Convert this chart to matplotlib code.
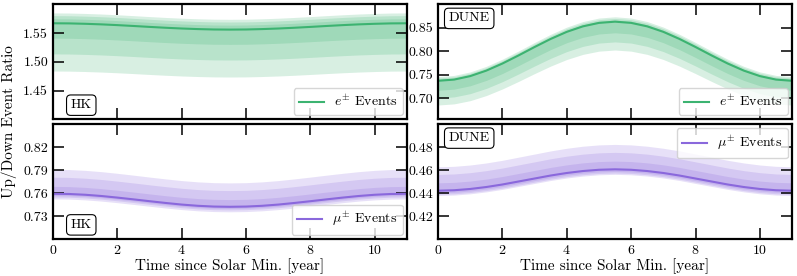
import numpy as np
import matplotlib
matplotlib.use("Agg")
from matplotlib import pyplot as plt

plt.rcParams['font.family'] = 'serif'
plt.rcParams['font.serif'] = ['cmr10', 'DejaVu Serif']
plt.rcParams['mathtext.fontset'] = 'cm'
plt.rcParams['axes.formatter.use_mathtext'] = True
plt.rcParams['font.size'] = 10

# time since solar minimum [year]
time = np.linspace(0, 11, 23)

# central up/down ratios (half-year steps)
hk_e = [1.5670, 1.5668, 1.5661, 1.5651, 1.5638, 1.5623, 1.5607, 1.5592, 1.5579, 1.5569, 1.5562, 1.5560,
        1.5562, 1.5569, 1.5579, 1.5592, 1.5607, 1.5623, 1.5638, 1.5651, 1.5661, 1.5668, 1.5670]
hk_mu = [0.7590, 0.7587, 0.7577, 0.7561, 0.7540, 0.7517, 0.7493, 0.7470, 0.7449, 0.7433, 0.7423, 0.7420,
         0.7423, 0.7433, 0.7449, 0.7470, 0.7493, 0.7517, 0.7540, 0.7561, 0.7577, 0.7587, 0.7590]
dune_e = [0.7370, 0.7396, 0.7470, 0.7587, 0.7738, 0.7910, 0.8090, 0.8262, 0.8413, 0.8530, 0.8604, 0.8630,
          0.8604, 0.8530, 0.8413, 0.8262, 0.8090, 0.7910, 0.7738, 0.7587, 0.7470, 0.7396, 0.7370]
dune_mu = [0.4420, 0.4424, 0.4435, 0.4452, 0.4474, 0.4500, 0.4526, 0.4552, 0.4574, 0.4591, 0.4602, 0.4606,
           0.4602, 0.4591, 0.4574, 0.4552, 0.4526, 0.4500, 0.4474, 0.4452, 0.4435, 0.4424, 0.4420]

# relative band edges (lower, upper) for the three bands, inner -> outer
hk_e_bands = [(-0.0165, 0.005), (-0.034, 0.0085), (-0.053, 0.0115)]
hk_mu_bands = [(-0.003, 0.0127), (-0.0055, 0.0285), (-0.0088, 0.042)]
dune_e_bands = [(-0.0275, 0.004), (-0.050, 0.008), (-0.070, 0.012)]
dune_mu_bands = [(-0.004, 0.0155), (-0.007, 0.032), (-0.0095, 0.047)]

green = '#3cb371'
purple = '#8a68dc'

panels = [
    # (row, col, center, bands, color, label, ylim, yticks, tag, legend loc)
    (0, 0, hk_e, hk_e_bands, green, r'$e^{\pm}$ Events', (1.40, 1.60), [1.45, 1.50, 1.55], 'HK', 'lower right'),
    (0, 1, dune_e, dune_e_bands, green, r'$e^{\pm}$ Events', (0.655, 0.90), [0.70, 0.75, 0.80, 0.85], 'DUNE', 'lower right'),
    (1, 0, hk_mu, hk_mu_bands, purple, r'$\mu^{\pm}$ Events', (0.70, 0.85), [0.73, 0.76, 0.79, 0.82], 'HK', 'lower right'),
    (1, 1, dune_mu, dune_mu_bands, purple, r'$\mu^{\pm}$ Events', (0.40, 0.50), [0.42, 0.44, 0.46, 0.48], 'DUNE', 'upper right'),
]

fig = plt.figure(figsize=(7.97, 2.76), dpi=100)
lefts = [0.0665, 0.5496]
bottoms = [0.5678, 0.1341]
w, h = 0.4442, 0.4166

for row, col, center, bands, color, label, ylim, yticks, tag, loc in panels:
    ax = fig.add_axes([lefts[col], bottoms[row], w, h])
    c = np.array(center)
    for lo, hi in bands:
        ax.fill_between(time, c * (1 + lo), c * (1 + hi), color=color, alpha=0.2, lw=0)
    ax.plot(time, c, color=color, lw=1.5, label=label)
    ax.set_xlim(0, 11)
    ax.set_ylim(*ylim)
    ax.set_yticks(yticks)
    ax.yaxis.set_major_formatter(plt.FormatStrFormatter('%.2f'))
    ax.set_xticks([0, 2, 4, 6, 8, 10])
    ax.tick_params(direction='in', top=True, right=True, length=8, width=1.1, labelsize=10)
    for s in ax.spines.values():
        s.set_linewidth(1.6)
    if row == 0:
        ax.tick_params(labelbottom=False)
    else:
        ax.set_xlabel('Time since Solar Min. [year]', fontsize=11, labelpad=1)
    if tag == 'HK':
        ax.text(0.05, 0.07, tag, transform=ax.transAxes, ha='left', va='bottom', fontsize=10,
                bbox=dict(boxstyle='round,pad=0.3', fc='white', ec='black', lw=0.8))
    else:
        ax.text(0.03, 0.93, tag, transform=ax.transAxes, ha='left', va='top', fontsize=10,
                bbox=dict(boxstyle='round,pad=0.3', fc='white', ec='black', lw=0.8))
    ax.legend(loc=loc, fontsize=10, borderaxespad=0.3, handlelength=1.8, handletextpad=0.7, fancybox=True)

fig.text(0.012, 0.56, 'Up/Down Event Ratio', rotation=90, ha='center', va='center', fontsize=11)

fig.savefig('out.png', dpi=100)
